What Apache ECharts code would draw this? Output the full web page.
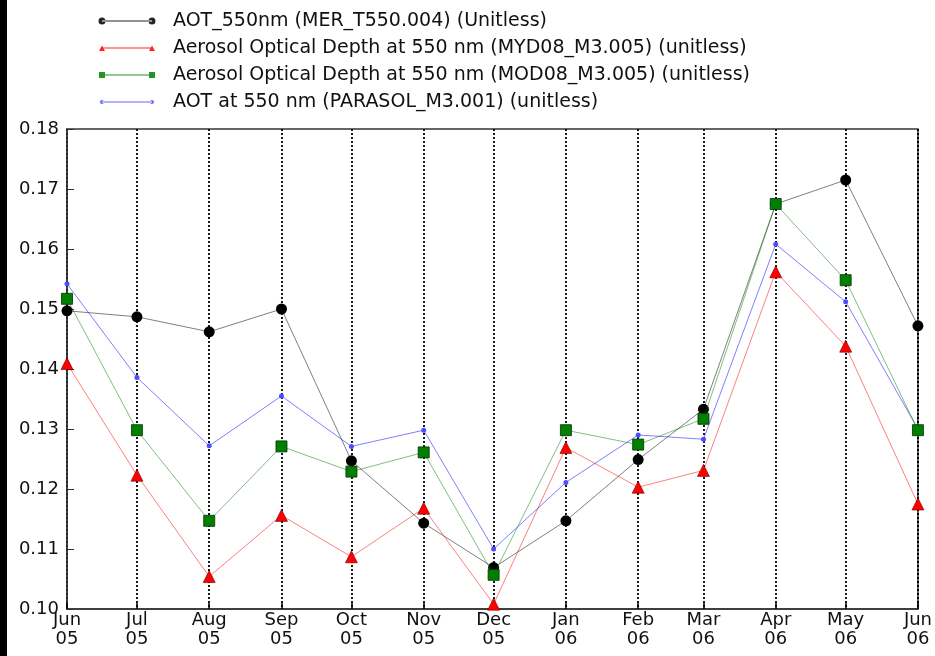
<!DOCTYPE html>
<html>
<head>
<meta charset="utf-8">
<script src="https://cdn.jsdelivr.net/npm/echarts@6/dist/echarts.min.js"></script>
<style>
html,body{margin:0;padding:0;background:#fff;}
#chart{width:935px;height:656px;}
</style>
</head>
<body>
<div id="chart"></div>
<script>
// ---- data ----
const dates = ['2005-06-01','2005-07-01','2005-08-01','2005-09-01','2005-10-01','2005-11-01','2005-12-01',
               '2006-01-01','2006-02-01','2006-03-01','2006-04-01','2006-05-01','2006-06-01'];
const monthNames = ['Jan','Feb','Mar','Apr','May','Jun','Jul','Aug','Sep','Oct','Nov','Dec'];
const seriesNames = [
  'AOT_550nm (MER_T550.004) (Unitless)',
  'Aerosol Optical Depth at 550 nm (MYD08_M3.005) (unitless)',
  'Aerosol Optical Depth at 550 nm (MOD08_M3.005) (unitless)',
  'AOT at 550 nm (PARASOL_M3.001) (unitless)'
];
const merT550 = [0.1497,0.1487,0.1462,0.1500,0.1247,0.1143,0.1069,0.1147,0.1249,0.1333,0.1675,0.1715,0.1472];
const myd08   = [0.1409,0.1223,0.1054,0.1156,0.1087,0.1168,0.1008,0.1269,0.1203,0.1231,0.1562,0.1438,0.1175];
const mod08   = [0.1517,0.1298,0.1147,0.1271,0.1229,0.1261,0.1057,0.1298,0.1274,0.1317,0.1675,0.1548,0.1298];
const parasol = [0.1542,0.1386,0.1272,0.1355,0.1271,0.1298,0.1100,0.1211,0.1290,0.1283,0.1608,0.1512,0.1300];
const yMin = 0.10, yMax = 0.18, yStep = 0.01;

// ---- chart ----
const FONT = 'DejaVu Sans';
const chart = echarts.init(document.getElementById('chart'), null, {renderer: 'canvas'});
const pair = arr => dates.map((d, i) => [d, arr[i]]);

const corners = 'M0,0 h0.01 v0.01 h-0.01 Z M60,10 h-0.01 v-0.01 h0.01 Z ';
const lineSeg = 'M5,4.6 h50 v0.8 h-50 Z ';
const icons = [
  'path://' + corners + lineSeg + 'M1.5,5 a3.5,3.5 0 1,0 7,0 a3.5,3.5 0 1,0 -7,0 Z M51.5,5 a3.5,3.5 0 1,0 7,0 a3.5,3.5 0 1,0 -7,0 Z',
  'path://' + corners + lineSeg + 'M2,8 L5,2.5 L8,8 Z M52,8 L55,2.5 L58,8 Z',
  'path://' + corners + lineSeg + 'M2,2 h6 v6 h-6 Z M52,2 h6 v6 h-6 Z',
  'path://' + corners + lineSeg + 'M3,5 a2,2 0 1,0 4,0 a2,2 0 1,0 -4,0 Z M53,5 a2,2 0 1,0 4,0 a2,2 0 1,0 -4,0 Z'
];
const legendColors = ['#000', '#ff0000', '#008000', '#4d4dff'];

const option = {
  backgroundColor: '#fff',
  animation: false,
  textStyle: {fontFamily: FONT},
  graphic: [{
    type: 'rect', left: 0, top: 0, shape: {width: 7, height: 656},
    style: {fill: '#000'}, silent: true, z: 100
  }],
  legend: {
    orient: 'vertical',
    left: 97, top: 11,
    padding: 0,
    itemWidth: 60, itemHeight: 10, itemGap: 7,
    symbolKeepAspect: false,
    selectedMode: false,
    textStyle: {fontFamily: FONT, fontSize: 19, color: '#111', lineHeight: 20, padding: [0, 0, 0, 11]},
    data: seriesNames.map((n, i) => ({
      name: n, icon: icons[i],
      itemStyle: {color: legendColors[i], borderWidth: 0, opacity: 0.85}
    }))
  },
  grid: {
    left: 67, right: 15, top: 129, bottom: 47,
    show: true, borderColor: '#333', borderWidth: 1.5, backgroundColor: 'transparent'
  },
  xAxis: {
    type: 'time',
    min: dates[0], max: dates[dates.length - 1],
    splitNumber: 12,
    minInterval: 28 * 86400000,
    maxInterval: 31 * 86400000,
    axisLine: {show: true, lineStyle: {color: '#333', width: 1.5}},
    axisTick: {show: true, inside: true, length: 6, lineStyle: {color: '#000', width: 1.5}},
    splitLine: {show: true, lineStyle: {color: '#000', type: [2, 2], width: 1.8}},
    axisLabel: {
      show: true, showMinLabel: true, showMaxLabel: true, hideOverlap: false,
      fontFamily: FONT, fontSize: 18, color: '#111', lineHeight: 19, margin: 2,
      formatter: function (v) {
        const d = new Date(v);
        return monthNames[d.getMonth()] + '\n' + String(d.getFullYear()).slice(2);
      }
    }
  },
  yAxis: {
    type: 'value',
    min: yMin, max: yMax, interval: yStep,
    axisLine: {show: true, lineStyle: {color: '#333', width: 1.5}},
    axisTick: {show: true, inside: true, length: 7, lineStyle: {color: '#333', width: 1}},
    splitLine: {show: false},
    axisLabel: {
      fontFamily: FONT, fontSize: 18, color: '#111', margin: 8,
      formatter: v => v.toFixed(2)
    }
  },
  series: [
    {
      name: seriesNames[0], type: 'line', data: pair(merT550), z: 2,
      symbol: 'circle', symbolSize: 11,
      lineStyle: {color: '#000', width: 1, opacity: 0.5},
      itemStyle: {color: '#000', borderColor: '#000', borderWidth: 0}
    },
    {
      name: seriesNames[1], type: 'line', data: pair(myd08), z: 3,
      symbol: 'triangle', symbolSize: 12,
      lineStyle: {color: '#ff0000', width: 1, opacity: 0.5},
      itemStyle: {color: '#ff0000', borderColor: '#600', borderWidth: 0.6}
    },
    {
      name: seriesNames[2], type: 'line', data: pair(mod08), z: 5,
      symbol: 'rect', symbolSize: 11,
      lineStyle: {color: '#008000', width: 1, opacity: 0.5},
      itemStyle: {color: '#008000', borderColor: '#003000', borderWidth: 0.8}
    },
    {
      name: seriesNames[3], type: 'line', data: pair(parasol), z: 4,
      symbol: 'circle', symbolSize: 5,
      lineStyle: {color: '#0000ff', width: 1, opacity: 0.5},
      itemStyle: {color: '#4d4dff', borderWidth: 0}
    }
  ]
};
chart.setOption(option);
</script>
</body>
</html>
